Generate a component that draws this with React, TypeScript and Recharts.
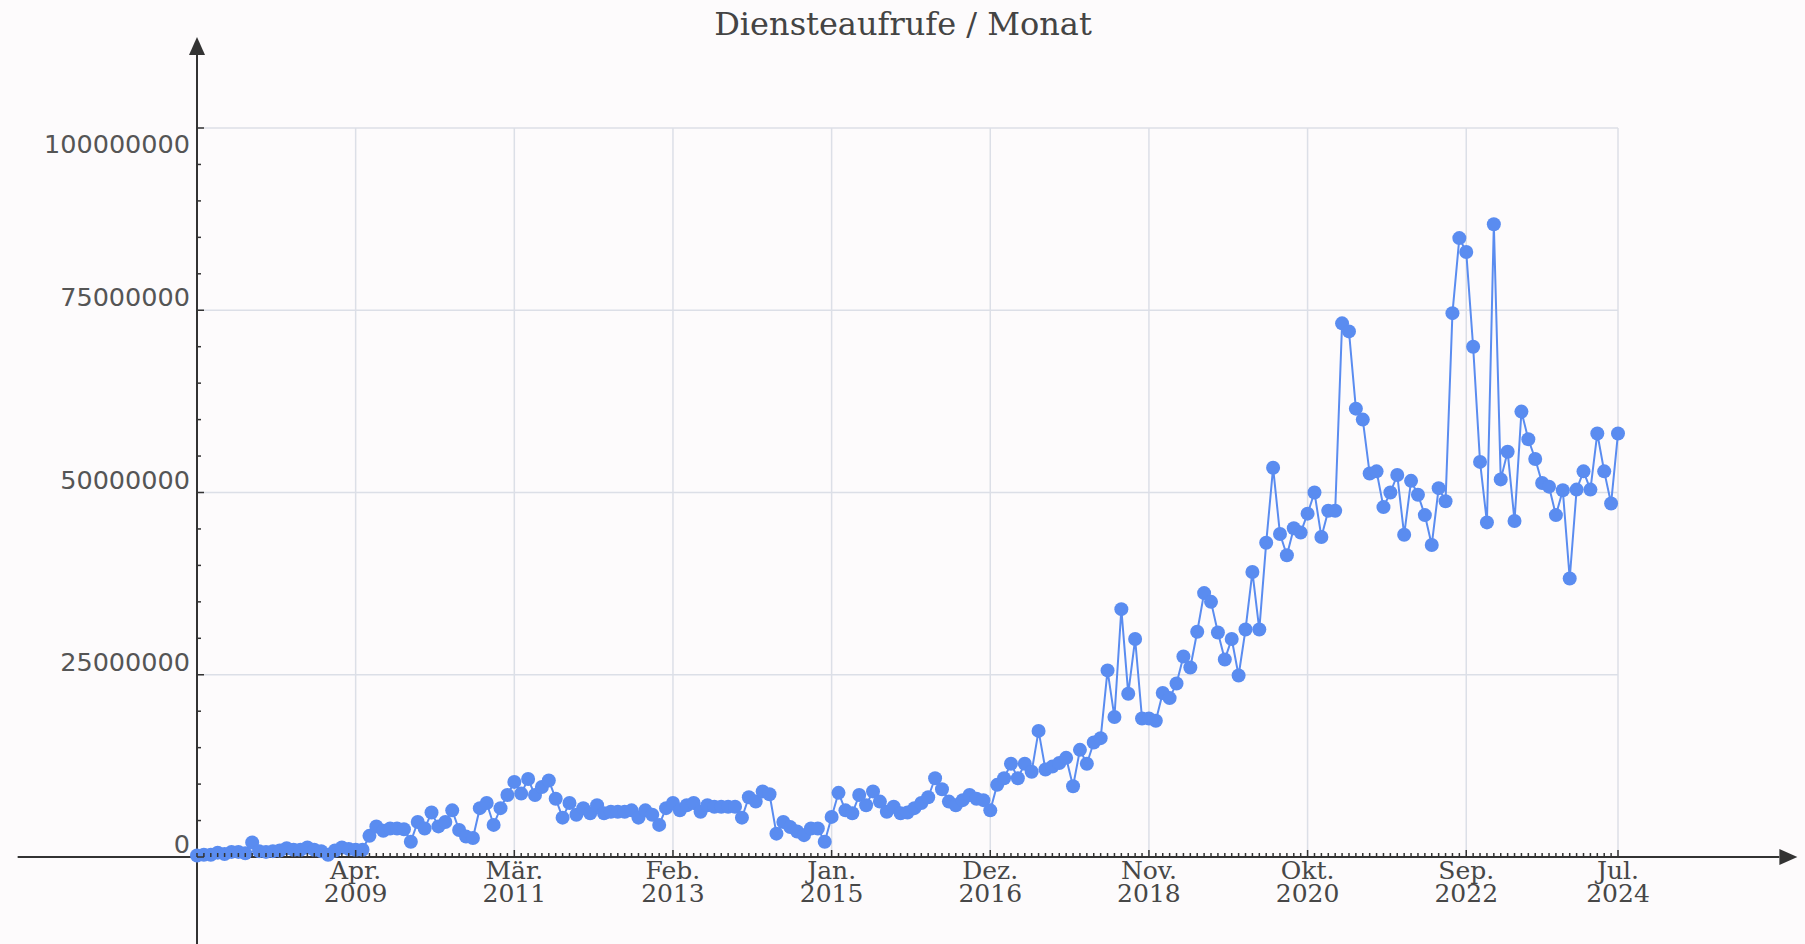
import React from "react";
import { LineChart, Line, XAxis, YAxis, ReferenceLine } from "recharts";

// monthly service calls, in millions, May 2007 .. Jul 2024
const callsMillions = [
  0.2, 0.3, 0.3, 0.6, 0.4, 0.7, 0.7, 0.5, 2.0, 0.8,
  0.7, 0.8, 0.9, 1.2, 1.0, 1.0, 1.3, 1.0, 0.8, 0.3,
  0.9, 1.3, 1.1, 1.0, 1.0, 2.9, 4.2, 3.6, 3.9, 3.9,
  3.8, 2.1, 4.8, 3.9, 6.1, 4.2, 4.8, 6.4, 3.7, 2.8,
  2.6, 6.7, 7.4, 4.4, 6.7, 8.5, 10.3, 8.7, 10.7, 8.5,
  9.6, 10.5, 8.0, 5.4, 7.4, 5.8, 6.7, 6.0, 7.1, 6.0,
  6.2, 6.2, 6.2, 6.4, 5.4, 6.4, 5.8, 4.4, 6.7, 7.4,
  6.4, 7.1, 7.4, 6.2, 7.1, 6.9, 6.9, 6.9, 6.9, 5.4,
  8.2, 7.6, 9.0, 8.6, 3.2, 4.8, 4.1, 3.5, 3.0, 3.9,
  3.9, 2.1, 5.5, 8.8, 6.4, 6.0, 8.5, 7.1, 9.0, 7.6,
  6.2, 6.9, 6.0, 6.1, 6.7, 7.4, 8.2, 10.8, 9.3, 7.6,
  7.1, 7.8, 8.5, 8.0, 7.8, 6.4, 9.9, 10.8, 12.8, 10.8,
  12.8, 11.7, 17.3, 12.0, 12.4, 12.9, 13.6, 9.7, 14.7, 12.8,
  15.7, 16.3, 25.6, 19.2, 34.0, 22.4, 29.9, 19.0, 19.0, 18.7,
  22.5, 21.8, 23.8, 27.5, 26.0, 30.9, 36.2, 35.0, 30.8, 27.1,
  29.9, 24.9, 31.2, 39.1, 31.2, 43.1, 53.4, 44.3, 41.4, 45.1,
  44.5, 47.1, 50.0, 43.9, 47.5, 47.5, 73.2, 72.1, 61.5, 60.0,
  52.6, 52.9, 48.0, 50.0, 52.4, 44.2, 51.6, 49.7, 46.9, 42.8,
  50.6, 48.8, 74.6, 84.9, 83.0, 70.0, 54.2, 45.9, 86.8, 51.8,
  55.6, 46.1, 61.1, 57.3, 54.6, 51.3, 50.8, 46.9, 50.3, 38.2,
  50.4, 52.9, 50.4, 58.1, 52.9, 48.5, 58.1,
];

const monthNames = ["Jan.", "Feb.", "Mär.", "Apr.", "Mai", "Jun.", "Jul.", "Aug.", "Sep.", "Okt.", "Nov.", "Dez."];
const startYear = 2007;
const startMonth = 4; // May

const tickMonths = [
  "Apr. 2009", "Mär. 2011", "Feb. 2013", "Jan. 2015", "Dez. 2016",
  "Nov. 2018", "Okt. 2020", "Sep. 2022", "Jul. 2024",
];
const yLabelTicks = [0, 25000000, 50000000, 75000000, 100000000];
const yMinorStep = 5000000;

const BLUE = "#5a8cf0";
const AXIS = "#333333";
const GRID = "#dcdfe7";

const data = callsMillions.map((v, i) => {
  const m = startMonth + i;
  return {
    idx: i,
    month: `${monthNames[m % 12]} ${startYear + Math.floor(m / 12)}`,
    calls: v * 1000000,
  };
});

const lastIdx = data.length - 1;
const xTicks = data.map((d) => d.idx);
const majorIdx = data.filter((d) => tickMonths.includes(d.month)).map((d) => d.idx);
const yTicks = Array.from({ length: 100000000 / yMinorStep + 1 }, (_, k) => k * yMinorStep);

const XTick = (props: any) => {
  const { x, y, payload } = props;
  const d = data[payload.value];
  const major = d && tickMonths.includes(d.month);
  const [mon, yr] = d ? d.month.split(" ") : ["", ""];
  return (
    <g>
      <line x1={x} x2={x} y1={y} y2={y - (major ? 7 : 4)} stroke={AXIS} strokeWidth={1.5} />
      {major && (
        <text
          x={x}
          y={y + 22}
          textAnchor="middle"
          fill="#474747"
          fontSize={25}
          fontFamily="DejaVu Serif"
        >
          <tspan x={x}>{mon}</tspan>
          <tspan x={x} dy={23}>{yr}</tspan>
        </text>
      )}
    </g>
  );
};

const YTick = (props: any) => {
  const { x, y, payload } = props;
  const v = payload.value;
  const major = yLabelTicks.includes(v);
  const top = v === yLabelTicks[yLabelTicks.length - 1];
  return (
    <g>
      <line x1={x} x2={x + (major ? 7 : 4)} y1={y} y2={y} stroke={AXIS} strokeWidth={1.5} />
      {major && (
        <text
          x={x - 7}
          y={top ? y + 25 : y - 4}
          textAnchor="end"
          fill="#555555"
          fontSize={25.5}
          fontFamily="DejaVu Sans"
        >
          {v}
        </text>
      )}
    </g>
  );
};

const ArrowLine = (props: any) => {
  const { x1, y1, x2, y2 } = props;
  const dx = x2 - x1;
  const dy = y2 - y1;
  const len = Math.sqrt(dx * dx + dy * dy) || 1;
  const ux = dx / len;
  const uy = dy / len;
  const hl = 18;
  const hw = 8;
  const bx = x2 - ux * hl;
  const by = y2 - uy * hl;
  return (
    <g>
      <line x1={x1} y1={y1} x2={bx} y2={by} stroke={AXIS} strokeWidth={2} />
      <polygon
        points={`${x2},${y2} ${bx - uy * hw},${by + ux * hw} ${bx + uy * hw},${by - ux * hw}`}
        fill={AXIS}
      />
    </g>
  );
};

export default function App() {
  return (
    <div
      style={{
        position: "absolute",
        left: 0,
        top: 0,
        width: 1805,
        height: 944,
        background: "#fdfbfc",
        overflow: "hidden",
      }}
    >
      <svg width={1805} height={60} style={{ position: "absolute", left: 0, top: 0 }}>
        <text x={903} y={35} textAnchor="middle" fill="#444444" fontSize={32} fontFamily="DejaVu Serif">
          Diensteaufrufe / Monat
        </text>
      </svg>
      <LineChart
        width={1805}
        height={944}
        data={data}
        margin={{ top: 128, right: 187, bottom: 0, left: 0 }}
        style={{ position: "absolute", left: 0, top: 0 }}
      >
        <XAxis
          dataKey="idx"
          type="number"
          domain={[0, lastIdx]}
          ticks={xTicks}
          interval={0}
          height={87}
          tickSize={0}
          tickMargin={0}
          axisLine={false}
          tickLine={false}
          tick={<XTick />}
        />
        <YAxis
          type="number"
          domain={[0, 100000000]}
          ticks={yTicks}
          interval={0}
          width={197}
          tickSize={0}
          tickMargin={0}
          axisLine={false}
          tickLine={false}
          tick={<YTick />}
        />
        {yLabelTicks.slice(1).map((v) => (
          <ReferenceLine key={`h${v}`} y={v} stroke={GRID} strokeWidth={1.5} />
        ))}
        {majorIdx.map((i) => (
          <ReferenceLine key={`v${i}`} x={i} stroke={GRID} strokeWidth={1.5} />
        ))}
        <ReferenceLine
          segment={[{ x: -26, y: 0 }, { x: 232, y: 0 }]}
          ifOverflow="visible"
          shape={ArrowLine}
        />
        <ReferenceLine
          segment={[{ x: 0, y: -14000000 }, { x: 0, y: 112500000 }]}
          ifOverflow="visible"
          shape={ArrowLine}
        />
        <Line
          dataKey="calls"
          stroke={BLUE}
          strokeWidth={2}
          dot={{ r: 7, fill: BLUE, stroke: BLUE, strokeWidth: 0 }}
          isAnimationActive={false}
        />
      </LineChart>
    </div>
  );
}
